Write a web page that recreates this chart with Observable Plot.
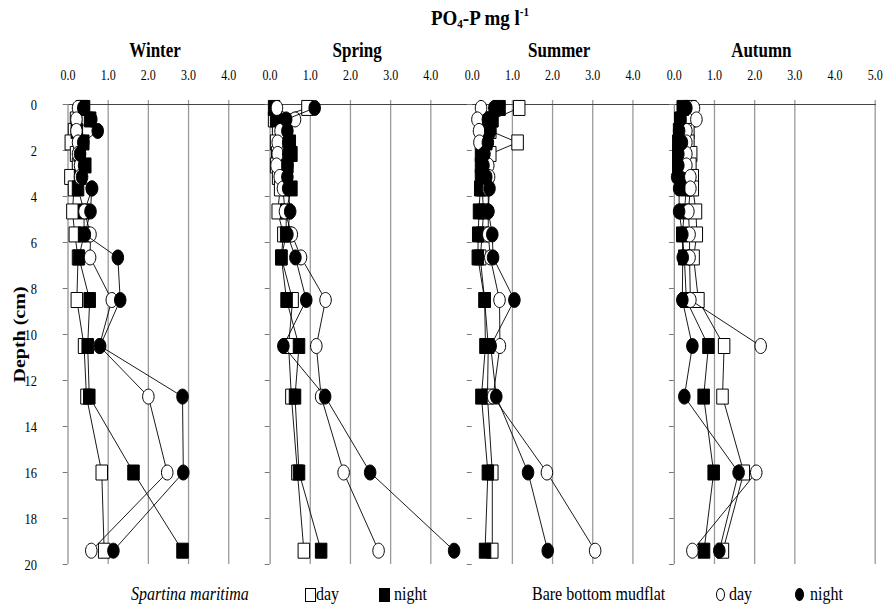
<!DOCTYPE html>
<html>
<head>
<meta charset="utf-8">
<script src="https://cdn.jsdelivr.net/npm/d3@7"></script>
<script src="https://cdn.jsdelivr.net/npm/@observablehq/plot@0.6"></script>
<style>
  body { margin: 0; background: #fff; font-family: "Liberation Serif", "Times New Roman", serif; color: #000; }
  #wrap { position: relative; width: 884px; height: 609px; overflow: hidden; background: #fff; }
  #title { position: absolute; top: 7px; left: 380px; width: 200px; text-align: center; font-weight: bold; font-size: 19px; line-height: 22px; transform: scaleY(1.15); }
  #title sub, #title sup { font-size: 11px; line-height: 0; }
  #title sub { vertical-align: -3px; }
  #title sup { vertical-align: 8px; }
  #chart { position: absolute; top: 34px; left: 0; }
  .lg { position: absolute; top: 584px; font-size: 16px; line-height: 20px; white-space: nowrap; transform: scaleY(1.2); }
  .box { position: absolute; top: 588px; width: 9px; height: 12px; border: 1px solid #000; box-sizing: content-box; }
  .ell { position: absolute; top: 588px; width: 7px; height: 11px; border: 1px solid #000; border-radius: 50%; }
</style>
</head>
<body>
<div id="wrap">
  <div id="title">PO<sub>4</sub>-P mg l<sup>-1</sup></div>
  <div id="chart"></div>
  <div id="legend"></div>
</div>
<script>
// ---------- data ----------
const seasons = ["Winter", "Spring", "Summer", "Autumn"];
const depths = [0.15, 0.65, 1.15, 1.65, 2.15, 2.65, 3.15, 3.65, 4.65, 5.65, 6.65, 8.5, 10.5, 12.7, 16.0, 19.4];

// Spartina maritima day (open squares) / night (filled squares)
// Bare bottom mudflat day (open circles) / night (filled circles)
const winterSpDay   = [0.35, 0.20, 0.15, 0.07, 0.20, 0.25, 0.06, 0.15, 0.11, 0.17, 0.25, 0.22, 0.40, 0.46, 0.84, 0.90];
const winterSpNight = [0.40, 0.55, 0.22, 0.38, 0.29, 0.43, 0.30, 0.25, 0.40, 0.40, 0.27, 0.54, 0.49, 0.53, 1.63, 2.85];
const winterBbDay   = [0.25, 0.21, 0.21, 0.25, 0.25, 0.30, 0.30, 0.60, 0.41, 0.56, 0.55, 1.09, 0.78, 2.00, 2.47, 0.58];
const winterBbNight = [0.38, 0.58, 0.74, 0.38, 0.30, 0.40, 0.35, 0.59, 0.56, 0.42, 1.24, 1.30, 0.80, 2.85, 2.87, 1.13];

const springSpDay   = [0.93, 0.10, 0.20, 0.15, 0.18, 0.15, 0.20, 0.25, 0.19, 0.33, 0.28, 0.56, 0.46, 0.53, 0.68, 0.84];
const springSpNight = [0.10, 0.15, 0.40, 0.49, 0.53, 0.43, 0.40, 0.53, 0.40, 0.40, 0.28, 0.41, 0.72, 0.62, 0.72, 1.27];
const springBbDay   = [0.17, 0.62, 0.26, 0.19, 0.19, 0.16, 0.24, 0.32, 0.37, 0.54, 0.77, 1.38, 1.15, 1.27, 1.83, 2.70];
const springBbNight = [1.11, 0.40, 0.43, 0.45, 0.45, 0.43, 0.43, 0.45, 0.50, 0.43, 0.63, 0.90, 0.33, 1.37, 2.49, 4.58];

const summerSpDay   = [1.17, 0.50, 0.45, 1.13, 0.45, 0.30, 0.25, 0.25, 0.28, 0.25, 0.20, 0.31, 0.40, 0.38, 0.50, 0.50];
const summerSpNight = [0.68, 0.50, 0.40, 0.35, 0.22, 0.22, 0.22, 0.20, 0.17, 0.15, 0.14, 0.31, 0.33, 0.23, 0.39, 0.32];
const summerBbDay   = [0.22, 0.13, 0.17, 0.18, 0.30, 0.40, 0.42, 0.40, 0.40, 0.40, 0.45, 0.68, 0.69, 0.52, 1.86, 3.06];
const summerBbNight = [0.55, 0.39, 0.45, 0.39, 0.30, 0.28, 0.35, 0.43, 0.40, 0.50, 0.52, 1.05, 0.46, 0.60, 1.39, 1.88];

const autumnSpDay   = [0.40, 0.40, 0.35, 0.35, 0.42, 0.40, 0.46, 0.46, 0.54, 0.56, 0.48, 0.60, 1.24, 1.20, 1.73, 1.21];
const autumnSpNight = [0.21, 0.15, 0.12, 0.10, 0.10, 0.10, 0.25, 0.30, 0.25, 0.20, 0.25, 0.30, 0.85, 0.73, 0.98, 0.74];
const autumnBbDay   = [0.49, 0.55, 0.30, 0.30, 0.30, 0.30, 0.40, 0.40, 0.35, 0.38, 0.38, 0.40, 2.15, null, 2.04, 0.45];
const autumnBbNight = [0.30, 0.15, 0.12, 0.19, 0.10, 0.10, 0.07, 0.12, 0.12, 0.20, 0.21, 0.20, 0.45, 0.25, 1.60, 1.12];

const seriesKeys = ["spDay", "spNight", "bbDay", "bbNight"];
const seriesValues = {
  spDay:   [winterSpDay, springSpDay, summerSpDay, autumnSpDay],
  spNight: [winterSpNight, springSpNight, summerSpNight, autumnSpNight],
  bbDay:   [winterBbDay, springBbDay, summerBbDay, autumnBbDay],
  bbNight: [winterBbNight, springBbNight, summerBbNight, autumnBbNight]
};

// axis ticks
const xTickValues = [[0, 1, 2, 3, 4], [0, 1, 2, 3, 4], [0, 1, 2, 3, 4], [0, 1, 2, 3, 4, 5]];
const xTickLabels = [["0.0", "1.0", "2.0", "3.0", "4.0"], ["0.0", "1.0", "2.0", "3.0", "4.0"],
                     ["0.0", "1.0", "2.0", "3.0", "4.0"], ["0.0", "1.0", "2.0", "3.0", "4.0", "5.0"]];
const gridValues = [[1, 2, 3, 4], [1, 2, 3, 4], [1, 2, 3, 4], [1, 2, 3, 5]];
const axisLineSeasons = ["Winter", "Spring", "Autumn"];
const depthTicks = [0, 2, 4, 6, 8, 10, 12, 14, 16, 18, 20];
const depthTickLabels = ["0", "2", "4", "6", "8", "10", "12", "14", "16", "18", "20"];
const yLabel = "Depth (cm)";

// ---------- derived tables ----------
const rows = [];
seriesKeys.forEach(key => seasons.forEach((s, si) => seriesValues[key][si].forEach((v, i) =>
  rows.push({series: key, season: s, depth: depths[i], value: v}))));

const gridRows = seasons.flatMap((s, i) => gridValues[i].map(v => ({season: s, v})));
const xTickRows = seasons.flatMap((s, i) => xTickValues[i].map((v, j) => ({season: s, v, t: xTickLabels[i][j]})));
const yTickRows = seasons.flatMap(s => depthTicks.map(d => ({season: s, d})));
const yLabelRows = depthTicks.map((d, i) => ({season: seasons[0], d, t: depthTickLabels[i]}));

// custom marker shapes (slightly tall, like the original)
const MW = 11.5, MH = 15;
const rectSym = {draw(ctx) {
  ctx.moveTo(-MW / 2, -MH / 2); ctx.lineTo(MW / 2, -MH / 2); ctx.lineTo(MW / 2, MH / 2); ctx.lineTo(-MW / 2, MH / 2); ctx.closePath();
}};
const ellSym = {draw(ctx) {
  const rx = MW / 2, ry = MH / 2, k = 0.5523;
  ctx.moveTo(rx, 0);
  ctx.bezierCurveTo(rx, ry * k, rx * k, ry, 0, ry);
  ctx.bezierCurveTo(-rx * k, ry, -rx, ry * k, -rx, 0);
  ctx.bezierCurveTo(-rx, -ry * k, -rx * k, -ry, 0, -ry);
  ctx.bezierCurveTo(rx * k, -ry, rx, -ry * k, rx, 0);
  ctx.closePath();
}};
const seriesStyle = {
  spDay:   {symbol: rectSym, fill: "white"},
  spNight: {symbol: rectSym, fill: "black"},
  bbDay:   {symbol: ellSym, fill: "white"},
  bbNight: {symbol: ellSym, fill: "black"}
};

const dataMarks = seriesKeys.flatMap(key => {
  const d = rows.filter(r => r.series === key);
  return [
    Plot.line(d, {fx: "season", x: "value", y: "depth", stroke: "black", strokeWidth: 0.9}),
    Plot.dot(d, {fx: "season", x: "value", y: "depth", r: 6, symbol: seriesStyle[key].symbol,
                 fill: seriesStyle[key].fill, stroke: "black", strokeWidth: 1})
  ];
});

const chart = Plot.plot({
  width: 884,
  height: 546,
  marginLeft: 67.5,
  marginRight: 8.1,
  marginTop: 70,
  marginBottom: 16,
  style: {fontFamily: "'Liberation Serif', 'Times New Roman', serif", fontSize: "13px", color: "black", background: "white", overflow: "visible"},
  x: {domain: [0, 5.03], axis: null},
  y: {domain: [0, 20], reverse: true, axis: null},
  fx: {domain: seasons, axis: null, padding: 0, paddingInner: 0, paddingOuter: 0, round: false},
  marks: [
    Plot.ruleX(gridRows, {fx: "season", x: "v", y1: () => -0.17, y2: () => 20, stroke: "#9a9a9a", strokeWidth: 1.3}),
    Plot.ruleY(seasons, {fx: d => d, y: () => 0, stroke: "#444", strokeWidth: 1}),
    Plot.ruleX(axisLineSeasons, {fx: d => d, x: () => 0, y1: () => 0, y2: () => 20, stroke: "#8a8a8a", strokeWidth: 1.2}),
    Plot.ruleY(yTickRows, {fx: "season", y: "d", x1: () => -0.12, x2: () => 0, stroke: "#777", strokeWidth: 1}),
    Plot.text(xTickRows, {fx: "season", x: "v", text: "t", frameAnchor: "top", lineAnchor: "middle", dy: -29, fontSize: 12}),
    Plot.text(seasons, {fx: d => d, text: d => d, frameAnchor: "top", lineAnchor: "middle", dy: -54, dx: -14, fontSize: 17, fontWeight: "bold"}),
    Plot.text(yLabelRows, {fx: "season", y: "d", text: "t", frameAnchor: "left", lineAnchor: "middle", dx: -31, textAnchor: "end", fontSize: 12.5}),
    Plot.text([yLabel], {fx: () => seasons[0], text: d => d, frameAnchor: "left", textAnchor: "middle", lineAnchor: "middle", dx: -48, rotate: -90, fontSize: 16, fontWeight: "bold"}),
    ...dataMarks
  ]
});

// stretch glyphs vertically like the (non-uniformly scaled) original figure
d3.select(chart).selectAll("text").each(function () {
  const t = this.getAttribute("transform") || "";
  this.setAttribute("transform", t + (t.includes("rotate") ? " scale(1.25,1)" : " scale(1,1.25)"));
});
document.getElementById("chart").appendChild(chart);

// ---------- legend ----------
const legendItems = [
  {html: "<i>Spartina maritima</i>", left: 131},
  {box: "open", left: 305}, {html: "day", left: 316},
  {box: "filled", left: 379}, {html: "night", left: 394},
  {html: "Bare bottom mudflat", left: 532},
  {ell: "open", left: 716}, {html: "day", left: 729},
  {ell: "filled", left: 795}, {html: "night", left: 810}
];
const lg = document.getElementById("legend");
legendItems.forEach(it => {
  const el = document.createElement("div");
  if (it.html) { el.className = "lg"; el.innerHTML = it.html; }
  else if (it.box) { el.className = "box"; el.style.background = it.box === "filled" ? "#000" : "#fff"; }
  else { el.className = "ell"; el.style.background = it.ell === "filled" ? "#000" : "#fff"; }
  el.style.left = it.left + "px";
  lg.appendChild(el);
});
</script>
</body>
</html>
